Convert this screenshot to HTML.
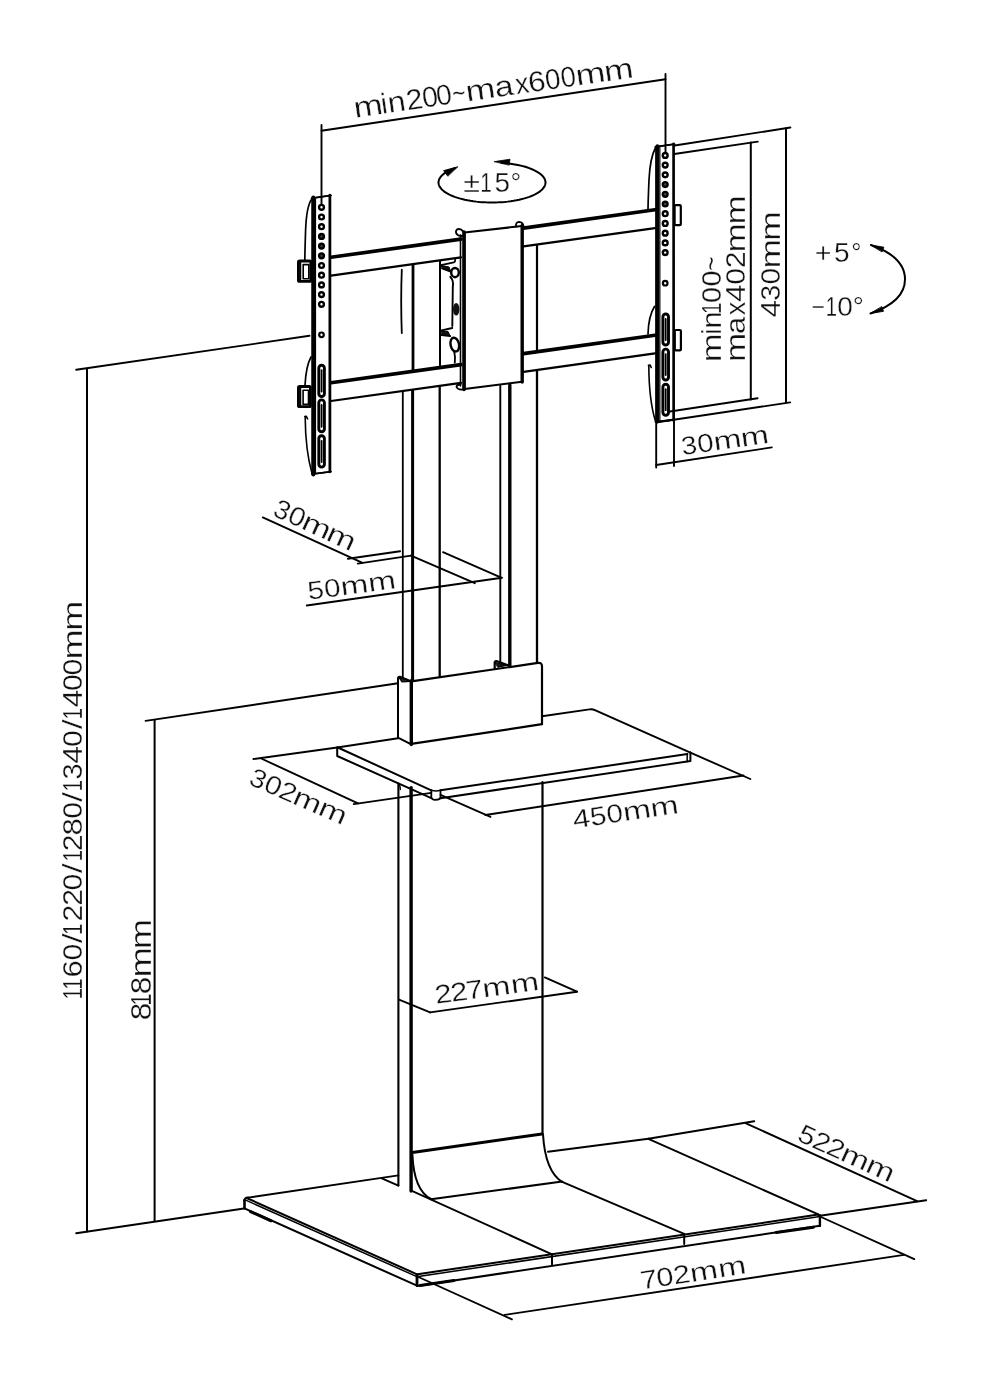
<!DOCTYPE html>
<html><head><meta charset="utf-8"><style>
html,body{margin:0;padding:0;background:#fff;}
svg{display:block;will-change:transform;}
text{font-family:"Liberation Sans",sans-serif;fill:#111;stroke:#fff;stroke-width:0.3;paint-order:fill stroke;}
</style></head><body>
<svg width="988" height="1381" viewBox="0 0 988 1381">
<rect width="988" height="1381" fill="#fff"/>
<g stroke="#000" stroke-linecap="round" stroke-linejoin="round" fill="none">
<line x1="321.50" y1="130.70" x2="665.50" y2="79.20" stroke-width="1.90"/>
<path d="M501.29,162.80 L504.40,163.04 L507.46,163.35 L510.47,163.73 L513.42,164.17 L516.29,164.68 L519.07,165.25 L521.76,165.88 L524.35,166.57 L526.82,167.31 L529.16,168.11 L531.38,168.96 L533.46,169.86 L535.39,170.80 L537.17,171.78 L538.79,172.80 L540.25,173.86 L541.53,174.94 L542.65,176.05 L543.58,177.19 L544.33,178.34 L544.90,179.51 L545.28,180.69 L545.47,181.87 L545.48,183.06 L545.30,184.24 L544.93,185.42 L544.37,186.59 L543.63,187.74 L542.71,188.88 L541.60,189.99 L540.33,191.08 L538.88,192.14 L537.27,193.16 L535.50,194.14 L533.58,195.09 L531.51,195.99 L529.30,196.84 L526.96,197.64 L524.49,198.39 L521.92,199.08 L519.23,199.71 L516.45,200.29 L513.59,200.80 L510.65,201.25 L507.64,201.63 L504.58,201.94 L501.47,202.18 L498.33,202.36 L495.17,202.46 L492.00,202.50 L488.83,202.46 L485.67,202.36 L482.53,202.18 L479.42,201.94 L476.36,201.63 L473.35,201.25 L470.41,200.80 L467.55,200.29 L464.77,199.71 L462.08,199.08 L459.51,198.39 L457.04,197.64 L454.70,196.84 L452.49,195.99 L450.42,195.09 L448.50,194.14 L446.73,193.16 L445.12,192.14 L443.67,191.08 L442.40,189.99 L441.29,188.88 L440.37,187.74 L439.63,186.59 L439.07,185.42 L438.70,184.24 L438.52,183.06 L438.53,181.87 L438.72,180.69 L439.10,179.51 L439.67,178.34 L440.42,177.19 L441.35,176.05 L442.47,174.94 L443.75,173.86 L445.21,172.80 L446.83,171.78 L448.61,170.80 L450.54,169.86 L452.62,168.96 L454.84,168.11" stroke-width="2.00" fill="none" />
<path d="M494.5,161.6 L510,159.2 L509.2,164.8 Z" stroke-width="0.80" fill="#000" />
<path d="M457.6,166.8 L443.6,170.6 L447.6,176 Z" stroke-width="0.80" fill="#000" />
<line x1="331.00" y1="257.30" x2="461.00" y2="239.10" stroke-width="3.60"/>
<line x1="331.00" y1="275.60" x2="461.00" y2="257.40" stroke-width="2.20"/>
<line x1="331.00" y1="382.80" x2="461.00" y2="364.60" stroke-width="3.60"/>
<line x1="331.00" y1="401.00" x2="461.00" y2="382.80" stroke-width="2.20"/>
<line x1="523.50" y1="228.15" x2="655.00" y2="209.74" stroke-width="3.60"/>
<line x1="523.50" y1="246.45" x2="655.00" y2="228.04" stroke-width="2.20"/>
<line x1="523.50" y1="353.65" x2="655.00" y2="335.24" stroke-width="3.60"/>
<line x1="523.50" y1="371.85" x2="655.00" y2="353.44" stroke-width="2.20"/>
<path d="M401.8,269.7 Q400.6,300 401.8,333" stroke-width="1.80" fill="none" />
<line x1="413.00" y1="265.12" x2="413.00" y2="369.32" stroke-width="2.80"/>
<line x1="440.00" y1="261.34" x2="440.00" y2="365.54" stroke-width="2.00"/>
<line x1="537.00" y1="245.76" x2="537.00" y2="349.96" stroke-width="2.20"/>
<line x1="402.80" y1="391.95" x2="402.80" y2="677.00" stroke-width="1.80"/>
<line x1="412.60" y1="390.58" x2="412.60" y2="681.00" stroke-width="3.00"/>
<line x1="439.70" y1="386.78" x2="439.70" y2="677.50" stroke-width="2.30"/>
<line x1="500.30" y1="386.00" x2="500.30" y2="662.00" stroke-width="1.90"/>
<line x1="509.80" y1="385.00" x2="509.80" y2="666.00" stroke-width="3.40"/>
<line x1="537.00" y1="371.16" x2="537.00" y2="663.50" stroke-width="2.30"/>
<path d="M464.5,232.6 L522,226 L522,381.7 L464.5,389 Z" stroke-width="2.00" fill="#fff" />
<line x1="464.00" y1="232.00" x2="464.00" y2="389.50" stroke-width="3.60"/>
<line x1="522.20" y1="225.50" x2="522.20" y2="382.00" stroke-width="3.40"/>
<line x1="460.50" y1="235.00" x2="460.50" y2="386.00" stroke-width="1.60"/>
<path d="M462.5,236 L458.5,235.5 Q455.5,234 456,230.8 Q457.5,228 461,229.5 L464.5,232.6" stroke-width="1.80" fill="none" />
<path d="M460.5,384.5 Q456.5,384.5 456.5,387 Q458,390.5 464.5,389.2" stroke-width="1.80" fill="none" />
<path d="M516,226.6 Q515.5,222.2 519,221.8 Q522.8,222 523.5,226" stroke-width="1.80" fill="none" />
<path d="M441,265.2 L453.8,262.4 Q455.5,261.5 455.2,259.5 M442,268.4 L450,271.5" stroke-width="1.80" fill="none" />
<path d="M441.5,265.5 L449,267 L450.5,271 L442.5,268.5 Z" stroke-width="1.00" fill="#111" />
<ellipse cx="455" cy="272.6" rx="3.8" ry="4.6" stroke-width="2.40" fill="#fff"/>
<path d="M450.3,276.8 Q454,281 452.8,287 L452.3,326" stroke-width="1.90" fill="none" />
<ellipse cx="456.2" cy="309.2" rx="3.2" ry="6.3" fill="#111" stroke="none"/>
<path d="M440.6,330.6 L452.3,328 M441.7,335 L450.3,336.1" stroke-width="1.80" fill="none" />
<path d="M441,330.8 L448,331.5 L450,335.8 L442,335 Z" stroke-width="1.00" fill="#111" />
<ellipse cx="454.8" cy="344.6" rx="4.2" ry="7" transform="rotate(-12 454.8 344.6)" stroke-width="2.40" fill="#fff"/>
<path d="M454.3,352.3 Q455.5,357 454.8,362.6" stroke-width="1.80" fill="none" />
<path d="M312.5,198 L330.5,195.5 L330.5,471.7 L312.5,474 Z" stroke-width="1.40" fill="#fff" />
<line x1="313.30" y1="197.60" x2="313.30" y2="474.50" stroke-width="4.00"/>
<line x1="315.50" y1="199.00" x2="315.50" y2="473.00" stroke-width="1.20"/>
<line x1="329.80" y1="195.00" x2="329.80" y2="472.00" stroke-width="2.60"/>
<line x1="311.60" y1="198.30" x2="331.00" y2="195.40" stroke-width="1.80"/>
<line x1="312.00" y1="474.20" x2="331.00" y2="471.60" stroke-width="1.80"/>
<circle cx="321.50" cy="207.30" r="2.4" stroke-width="2.40" fill="none"/>
<circle cx="321.50" cy="217.00" r="2.4" stroke-width="2.40" fill="none"/>
<circle cx="321.50" cy="226.70" r="2.4" stroke-width="2.40" fill="none"/>
<circle cx="321.50" cy="236.40" r="2.4" stroke-width="2.40" fill="#444"/>
<circle cx="321.50" cy="246.10" r="2.4" stroke-width="2.40" fill="#444"/>
<circle cx="321.50" cy="255.80" r="2.4" stroke-width="2.40" fill="#444"/>
<circle cx="321.50" cy="265.50" r="2.4" stroke-width="2.40" fill="none"/>
<circle cx="321.50" cy="275.20" r="2.4" stroke-width="2.40" fill="none"/>
<circle cx="321.50" cy="284.90" r="2.4" stroke-width="2.40" fill="none"/>
<circle cx="321.50" cy="294.60" r="2.4" stroke-width="2.40" fill="none"/>
<circle cx="321.50" cy="304.30" r="2.4" stroke-width="2.40" fill="none"/>
<circle cx="321.50" cy="334.80" r="2.3" stroke-width="2.20" fill="none"/>
<rect x="318.8" y="365.2" width="5.6" height="31.3" rx="2.8" stroke-width="2.90" fill="none"/>
<line x1="321.60" y1="370.20" x2="321.60" y2="391.50" stroke-width="1.80"/>
<rect x="318.8" y="399.9" width="5.6" height="31.9" rx="2.8" stroke-width="2.90" fill="none"/>
<line x1="321.60" y1="404.90" x2="321.60" y2="426.80" stroke-width="1.80"/>
<rect x="318.8" y="435.8" width="5.6" height="31.3" rx="2.8" stroke-width="2.90" fill="none"/>
<line x1="321.60" y1="440.80" x2="321.60" y2="462.10" stroke-width="1.80"/>
<path d="M311.8,199 Q306.5,206 305.6,230 Q305,248 304.8,260" stroke-width="1.70" fill="none" />
<rect x="298.4" y="261" width="12.4" height="20.4" rx="1.2" stroke-width="2.80" fill="#fff"/>
<path d="M298.2,262 L298.2,280 L300.5,281.4 L300.5,262 Z" stroke-width="1.50" fill="#111" />
<rect x="303.2" y="264.6" width="5.6" height="14.2" rx="0" stroke-width="1.60" fill="#fff"/>
<path d="M311,357 Q306,366 305,385.5" stroke-width="1.70" fill="none" />
<rect x="298.4" y="386.5" width="12" height="20.2" rx="1.2" stroke-width="2.80" fill="#fff"/>
<path d="M298.2,387.5 L298.2,405.5 L300.5,406.5 L300.5,387.5 Z" stroke-width="1.50" fill="#111" />
<rect x="303.1" y="390.2" width="5.4" height="14.2" rx="0" stroke-width="1.60" fill="#fff"/>
<path d="M304.8,416.6 L306.2,416.2 L307.6,418.8 M305.2,417.5 Q305.4,450 312,473.5" stroke-width="1.60" fill="none" />
<path d="M656,146.7 L673.5,144.3 L674,420 L656,422 Z" stroke-width="1.40" fill="#fff" />
<line x1="657.40" y1="146.30" x2="657.40" y2="421.50" stroke-width="4.00"/>
<line x1="659.90" y1="147.00" x2="659.90" y2="420.50" stroke-width="1.10"/>
<line x1="673.60" y1="143.80" x2="673.60" y2="420.50" stroke-width="2.60"/>
<line x1="655.30" y1="146.80" x2="674.50" y2="144.20" stroke-width="1.80"/>
<line x1="655.50" y1="422.00" x2="674.50" y2="419.50" stroke-width="1.80"/>
<circle cx="665.20" cy="155.40" r="2.4" stroke-width="2.40" fill="none"/>
<circle cx="665.20" cy="165.12" r="2.4" stroke-width="2.40" fill="none"/>
<circle cx="665.20" cy="174.84" r="2.4" stroke-width="2.40" fill="none"/>
<circle cx="665.20" cy="184.56" r="2.4" stroke-width="2.40" fill="#444"/>
<circle cx="665.20" cy="194.28" r="2.4" stroke-width="2.40" fill="#444"/>
<circle cx="665.20" cy="204.00" r="2.4" stroke-width="2.40" fill="#444"/>
<circle cx="665.20" cy="213.72" r="2.4" stroke-width="2.40" fill="none"/>
<circle cx="665.20" cy="223.44" r="2.4" stroke-width="2.40" fill="none"/>
<circle cx="665.20" cy="233.16" r="2.4" stroke-width="2.40" fill="none"/>
<circle cx="665.20" cy="242.88" r="2.4" stroke-width="2.40" fill="none"/>
<circle cx="665.20" cy="252.60" r="2.4" stroke-width="2.40" fill="none"/>
<circle cx="665.20" cy="283.20" r="2.3" stroke-width="2.20" fill="none"/>
<rect x="662.9" y="314" width="5.6" height="31" rx="2.8" stroke-width="2.90" fill="none"/>
<line x1="665.70" y1="319.00" x2="665.70" y2="340.00" stroke-width="1.80"/>
<rect x="662.9" y="349.1" width="5.6" height="30.9" rx="2.8" stroke-width="2.90" fill="none"/>
<line x1="665.70" y1="354.10" x2="665.70" y2="375.00" stroke-width="1.80"/>
<rect x="662.9" y="384.2" width="5.6" height="31.0" rx="2.8" stroke-width="2.90" fill="none"/>
<line x1="665.70" y1="389.20" x2="665.70" y2="410.20" stroke-width="1.80"/>
<path d="M655.6,147.5 Q650,158 649,180 Q648.2,198 648,210" stroke-width="1.70" fill="none" />
<rect x="674.6" y="205.2" width="6.2" height="20" rx="1" stroke-width="2.20" fill="#fff"/>
<rect x="674.8" y="330" width="6.1" height="20.4" rx="1" stroke-width="2.20" fill="#fff"/>
<path d="M654.5,306.5 Q648.5,316 648,334" stroke-width="1.70" fill="none" />
<path d="M648.4,365.2 L650.2,365 L651.2,367.5 M648.8,366 Q649,400 655.4,421" stroke-width="1.60" fill="none" />
<line x1="321.50" y1="125.00" x2="321.50" y2="204.60" stroke-width="1.90"/>
<line x1="665.50" y1="74.00" x2="665.50" y2="152.60" stroke-width="1.90"/>
<path d="M411.3,681.4 L538,662.9 Q542,662.4 542,666.5 L542,724.2 L411.3,743.9 Z" stroke-width="2.20" fill="#fff" />
<line x1="411.30" y1="680.80" x2="411.30" y2="744.60" stroke-width="3.40"/>
<path d="M411.3,681.4 L400,676.8 Q398,676.5 398,678.5 L398,737.7 L411.3,744.4" stroke-width="2.00" fill="none" />
<path d="M398.6,677 L411,681.4 L402,681.8 Z" stroke-width="1.20" fill="#222" />
<path d="M494.7,668.5 L494.7,662 Q495.5,660.8 497,661.2 L508,665.3" stroke-width="2.20" fill="none" />
<path d="M495.5,662.5 L507,665.4 L498,667.2 Z" stroke-width="1.00" fill="#111" />
<line x1="337.20" y1="747.50" x2="398.00" y2="738.30" stroke-width="1.90"/>
<path d="M542,716.3 L589.5,709.4 Q592.5,709 595.5,710.4 L690.4,752.6" stroke-width="1.90" fill="none" />
<path d="M337.8,747.5 L431.3,790.3" stroke-width="2.00" fill="none" />
<path d="M440.5,790.3 L687.4,754.1" stroke-width="2.00" fill="none" />
<path d="M337.2,747.5 L337.2,756 L431.3,798.2 M440.5,798.2 L690.4,761.1 L690.4,752.6" stroke-width="2.00" fill="none" />
<path d="M431.3,790.3 L431.3,797.5 Q432,799.6 434.5,799.8 L438,799.5 Q440.5,799 440.5,797 L440.5,790.3" stroke-width="1.80" fill="none" />
<path d="M431.3,790.3 Q436,791.8 440.5,790.3" stroke-width="1.60" fill="none" />
<line x1="687.20" y1="753.80" x2="687.20" y2="761.40" stroke-width="1.50"/>
<line x1="398.40" y1="783.60" x2="398.40" y2="1185.50" stroke-width="2.10"/>
<line x1="411.10" y1="787.60" x2="411.10" y2="1191.00" stroke-width="3.40"/>
<line x1="542.50" y1="782.00" x2="542.50" y2="1134.00" stroke-width="2.20"/>
<path d="M398.4,784 Q400.5,785.5 400.3,789.5" stroke-width="1.30" fill="none" />
<line x1="412.40" y1="1152.60" x2="542.00" y2="1133.90" stroke-width="3.00"/>
<path d="M412.4,1154.5 C413.5,1180 421,1194 431,1199" stroke-width="2.00" fill="none" />
<path d="M543,1134.3 C544.5,1160 551,1175 562.2,1182" stroke-width="2.00" fill="none" />
<line x1="431.00" y1="1199.20" x2="562.20" y2="1181.60" stroke-width="2.00"/>
<line x1="248.00" y1="1197.60" x2="398.40" y2="1175.40" stroke-width="1.90"/>
<line x1="548.00" y1="1151.80" x2="648.40" y2="1138.80" stroke-width="1.90"/>
<path d="M244.2,1201 Q244.5,1197.8 248,1197.6" stroke-width="2.00" fill="none" />
<line x1="246.60" y1="1198.00" x2="417.00" y2="1274.30" stroke-width="2.00"/>
<line x1="246.30" y1="1200.40" x2="416.30" y2="1276.40" stroke-width="1.50"/>
<line x1="417.70" y1="1274.20" x2="818.30" y2="1214.60" stroke-width="2.00"/>
<line x1="418.40" y1="1276.50" x2="818.30" y2="1216.80" stroke-width="1.50"/>
<line x1="244.50" y1="1200.20" x2="244.50" y2="1208.30" stroke-width="2.60"/>
<line x1="244.50" y1="1208.40" x2="417.00" y2="1285.70" stroke-width="2.00"/>
<line x1="417.00" y1="1274.80" x2="417.00" y2="1285.50" stroke-width="2.80"/>
<line x1="417.20" y1="1286.00" x2="819.90" y2="1225.80" stroke-width="2.00"/>
<line x1="819.90" y1="1215.20" x2="819.90" y2="1225.80" stroke-width="2.40"/>
<line x1="648.40" y1="1138.80" x2="818.30" y2="1214.40" stroke-width="1.90"/>
<line x1="381.80" y1="1178.30" x2="398.40" y2="1185.60" stroke-width="1.90"/>
<line x1="412.40" y1="1191.10" x2="552.00" y2="1254.30" stroke-width="1.90"/>
<line x1="552.00" y1="1254.50" x2="552.00" y2="1264.40" stroke-width="2.00"/>
<line x1="562.20" y1="1181.90" x2="684.20" y2="1233.90" stroke-width="1.90"/>
<line x1="684.20" y1="1233.90" x2="684.20" y2="1244.00" stroke-width="2.00"/>
<line x1="250.50" y1="1211.60" x2="271.00" y2="1220.80" stroke-width="3.00"/>
<line x1="420.00" y1="1285.50" x2="454.00" y2="1280.40" stroke-width="3.00"/>
<line x1="776.20" y1="1232.50" x2="813.40" y2="1227.20" stroke-width="3.00"/>
<line x1="76.20" y1="369.80" x2="309.50" y2="335.80" stroke-width="1.90"/>
<line x1="87.00" y1="369.50" x2="87.00" y2="1231.50" stroke-width="2.00"/>
<line x1="76.20" y1="1233.30" x2="244.00" y2="1208.50" stroke-width="1.90"/>
<line x1="145.60" y1="720.90" x2="398.00" y2="683.30" stroke-width="1.90"/>
<line x1="154.60" y1="720.20" x2="154.60" y2="1221.00" stroke-width="2.00"/>
<line x1="262.80" y1="517.40" x2="362.00" y2="562.70" stroke-width="1.90"/>
<line x1="347.90" y1="558.80" x2="400.10" y2="551.20" stroke-width="1.90"/>
<line x1="357.80" y1="563.60" x2="411.00" y2="555.60" stroke-width="1.90"/>
<line x1="411.00" y1="555.60" x2="474.80" y2="583.20" stroke-width="1.90"/>
<line x1="443.00" y1="552.20" x2="501.20" y2="577.70" stroke-width="1.90"/>
<line x1="306.80" y1="605.50" x2="502.00" y2="577.70" stroke-width="1.90"/>
<line x1="253.40" y1="759.00" x2="337.20" y2="747.50" stroke-width="1.90"/>
<line x1="261.20" y1="758.50" x2="358.00" y2="803.30" stroke-width="1.90"/>
<line x1="353.70" y1="804.10" x2="431.30" y2="792.90" stroke-width="1.90"/>
<line x1="440.50" y1="794.90" x2="490.50" y2="816.80" stroke-width="1.90"/>
<line x1="690.40" y1="752.60" x2="750.30" y2="779.00" stroke-width="1.90"/>
<line x1="485.40" y1="815.00" x2="743.50" y2="775.50" stroke-width="1.90"/>
<line x1="399.00" y1="999.70" x2="430.10" y2="1012.40" stroke-width="1.90"/>
<line x1="430.10" y1="1012.40" x2="577.00" y2="991.70" stroke-width="1.90"/>
<line x1="544.80" y1="977.40" x2="577.00" y2="991.70" stroke-width="1.90"/>
<line x1="418.40" y1="1277.00" x2="511.90" y2="1319.30" stroke-width="1.90"/>
<line x1="504.60" y1="1314.90" x2="904.00" y2="1254.90" stroke-width="1.90"/>
<line x1="819.90" y1="1216.50" x2="914.30" y2="1259.10" stroke-width="1.90"/>
<line x1="648.40" y1="1138.80" x2="754.20" y2="1121.30" stroke-width="1.90"/>
<line x1="746.00" y1="1123.30" x2="917.10" y2="1201.20" stroke-width="1.90"/>
<line x1="818.30" y1="1216.00" x2="926.20" y2="1200.20" stroke-width="1.90"/>
<line x1="674.70" y1="145.50" x2="790.40" y2="127.50" stroke-width="1.90"/>
<line x1="786.00" y1="128.50" x2="786.00" y2="402.40" stroke-width="2.00"/>
<line x1="657.00" y1="422.30" x2="790.20" y2="402.40" stroke-width="1.90"/>
<line x1="674.30" y1="154.00" x2="757.80" y2="141.60" stroke-width="1.90"/>
<line x1="750.80" y1="142.60" x2="750.80" y2="399.60" stroke-width="2.00"/>
<line x1="670.00" y1="411.50" x2="757.60" y2="398.20" stroke-width="1.90"/>
<line x1="656.20" y1="422.00" x2="656.20" y2="467.60" stroke-width="1.90"/>
<line x1="674.00" y1="420.00" x2="674.00" y2="466.00" stroke-width="1.90"/>
<line x1="656.20" y1="465.00" x2="771.80" y2="447.40" stroke-width="1.90"/>
<path d="M871,245 C889.5,251.5 905,262 905,279.3 C905,296.5 889.5,307 870.5,313.5" stroke-width="2.00" fill="none" />
<path d="M870.8,245 L883.8,247.2 L882.2,251.6 Z" stroke-width="0.90" fill="#000" />
<path d="M870.5,313.5 L883.5,311.3 L881.9,306.9 Z" stroke-width="0.90" fill="#000" />
<text transform="translate(357.10,117.50) rotate(-8.27)" font-size="28.78"><tspan x="-2.24" textLength="29.13" lengthAdjust="spacingAndGlyphs">m</tspan><tspan x="25.51" textLength="6.39" lengthAdjust="spacingAndGlyphs">i</tspan><tspan x="32.34" textLength="17.94" lengthAdjust="spacingAndGlyphs">n</tspan><tspan x="51.05" textLength="16.72" lengthAdjust="spacingAndGlyphs">2</tspan><tspan x="67.01" textLength="15.94" lengthAdjust="spacingAndGlyphs">0</tspan><tspan x="81.37" textLength="15.71" lengthAdjust="spacingAndGlyphs">0</tspan><tspan x="97.30" textLength="13.35" lengthAdjust="spacingAndGlyphs">~</tspan><tspan x="110.94" textLength="29.72" lengthAdjust="spacingAndGlyphs">m</tspan><tspan x="140.32" textLength="18.84" lengthAdjust="spacingAndGlyphs">a</tspan><tspan x="161.29" textLength="13.49" lengthAdjust="spacingAndGlyphs">x</tspan><tspan x="174.32" textLength="17.36" lengthAdjust="spacingAndGlyphs">6</tspan><tspan x="191.29" textLength="15.36" lengthAdjust="spacingAndGlyphs">0</tspan><tspan x="207.15" textLength="15.36" lengthAdjust="spacingAndGlyphs">0</tspan><tspan x="222.30" textLength="29.72" lengthAdjust="spacingAndGlyphs">m</tspan><tspan x="251.03" textLength="29.25" lengthAdjust="spacingAndGlyphs">m</tspan></text>
<text transform="translate(464.30,192.40) rotate(0.00)" font-size="27.62"><tspan x="-0.97" textLength="16.72" lengthAdjust="spacingAndGlyphs">±</tspan><tspan x="16.06" textLength="11.52" lengthAdjust="spacingAndGlyphs">1</tspan><tspan x="30.09" textLength="15.48" lengthAdjust="spacingAndGlyphs">5</tspan><tspan x="46.16" textLength="10.70" lengthAdjust="spacingAndGlyphs">°</tspan></text>
<text transform="translate(816.10,262.30) rotate(0.00)" font-size="27.91"><tspan x="-1.40" textLength="16.71" lengthAdjust="spacingAndGlyphs">+</tspan><tspan x="17.88" textLength="15.60" lengthAdjust="spacingAndGlyphs">5</tspan><tspan x="35.27" textLength="10.27" lengthAdjust="spacingAndGlyphs">°</tspan></text>
<text transform="translate(812.80,316.30) rotate(0.00)" font-size="27.03"><tspan x="-1.13" textLength="13.34" lengthAdjust="spacingAndGlyphs">−</tspan><tspan x="12.98" textLength="11.28" lengthAdjust="spacingAndGlyphs">1</tspan><tspan x="24.51" textLength="15.59" lengthAdjust="spacingAndGlyphs">0</tspan><tspan x="40.04" textLength="11.13" lengthAdjust="spacingAndGlyphs">°</tspan></text>
<text transform="translate(721.10,359.50) rotate(-90.00)" font-size="27.33"><tspan x="-2.86" textLength="28.70" lengthAdjust="spacingAndGlyphs">m</tspan><tspan x="25.05" textLength="6.07" lengthAdjust="spacingAndGlyphs">i</tspan><tspan x="30.88" textLength="17.61" lengthAdjust="spacingAndGlyphs">n</tspan><tspan x="45.46" textLength="11.40" lengthAdjust="spacingAndGlyphs">1</tspan><tspan x="56.51" textLength="16.04" lengthAdjust="spacingAndGlyphs">0</tspan><tspan x="72.90" textLength="16.04" lengthAdjust="spacingAndGlyphs">0</tspan><tspan x="88.69" textLength="14.41" lengthAdjust="spacingAndGlyphs">~</tspan></text>
<text transform="translate(744.80,359.50) rotate(-90.00)" font-size="27.03"><tspan x="-2.63" textLength="29.28" lengthAdjust="spacingAndGlyphs">m</tspan><tspan x="25.47" textLength="17.24" lengthAdjust="spacingAndGlyphs">a</tspan><tspan x="44.18" textLength="13.57" lengthAdjust="spacingAndGlyphs">x</tspan><tspan x="57.48" textLength="17.70" lengthAdjust="spacingAndGlyphs">4</tspan><tspan x="74.83" textLength="16.76" lengthAdjust="spacingAndGlyphs">0</tspan><tspan x="91.33" textLength="16.82" lengthAdjust="spacingAndGlyphs">2</tspan><tspan x="106.94" textLength="29.28" lengthAdjust="spacingAndGlyphs">m</tspan><tspan x="135.04" textLength="29.28" lengthAdjust="spacingAndGlyphs">m</tspan></text>
<text transform="translate(780.40,316.50) rotate(-90.00)" font-size="27.33"><tspan x="-1.10" textLength="17.52" lengthAdjust="spacingAndGlyphs">4</tspan><tspan x="15.81" textLength="15.92" lengthAdjust="spacingAndGlyphs">3</tspan><tspan x="31.96" textLength="16.58" lengthAdjust="spacingAndGlyphs">0</tspan><tspan x="47.91" textLength="29.59" lengthAdjust="spacingAndGlyphs">m</tspan><tspan x="75.71" textLength="29.59" lengthAdjust="spacingAndGlyphs">m</tspan></text>
<text transform="translate(82.00,996.70) rotate(-90.00)" font-size="27.91"><tspan x="-2.86" textLength="11.64" lengthAdjust="spacingAndGlyphs">1</tspan><tspan x="6.84" textLength="11.64" lengthAdjust="spacingAndGlyphs">1</tspan><tspan x="19.22" textLength="17.34" lengthAdjust="spacingAndGlyphs">6</tspan><tspan x="36.10" textLength="16.80" lengthAdjust="spacingAndGlyphs">0</tspan><tspan x="53.41" textLength="10.08" lengthAdjust="spacingAndGlyphs">/</tspan><tspan x="61.59" textLength="11.64" lengthAdjust="spacingAndGlyphs">1</tspan><tspan x="75.22" textLength="16.86" lengthAdjust="spacingAndGlyphs">2</tspan><tspan x="90.87" textLength="16.86" lengthAdjust="spacingAndGlyphs">2</tspan><tspan x="106.30" textLength="16.80" lengthAdjust="spacingAndGlyphs">0</tspan><tspan x="123.36" textLength="10.08" lengthAdjust="spacingAndGlyphs">/</tspan><tspan x="135.09" textLength="11.64" lengthAdjust="spacingAndGlyphs">1</tspan><tspan x="145.37" textLength="16.86" lengthAdjust="spacingAndGlyphs">2</tspan><tspan x="161.29" textLength="17.42" lengthAdjust="spacingAndGlyphs">8</tspan><tspan x="177.90" textLength="16.80" lengthAdjust="spacingAndGlyphs">0</tspan><tspan x="194.66" textLength="10.08" lengthAdjust="spacingAndGlyphs">/</tspan><tspan x="205.09" textLength="11.64" lengthAdjust="spacingAndGlyphs">1</tspan><tspan x="217.12" textLength="16.13" lengthAdjust="spacingAndGlyphs">3</tspan><tspan x="232.93" textLength="17.74" lengthAdjust="spacingAndGlyphs">4</tspan><tspan x="249.60" textLength="16.80" lengthAdjust="spacingAndGlyphs">0</tspan><tspan x="267.36" textLength="10.08" lengthAdjust="spacingAndGlyphs">/</tspan><tspan x="277.09" textLength="11.64" lengthAdjust="spacingAndGlyphs">1</tspan><tspan x="289.23" textLength="17.74" lengthAdjust="spacingAndGlyphs">4</tspan><tspan x="305.70" textLength="16.80" lengthAdjust="spacingAndGlyphs">0</tspan><tspan x="321.10" textLength="16.80" lengthAdjust="spacingAndGlyphs">0</tspan><tspan x="337.26" textLength="30.07" lengthAdjust="spacingAndGlyphs">m</tspan><tspan x="366.06" textLength="30.07" lengthAdjust="spacingAndGlyphs">m</tspan></text>
<text transform="translate(150.80,1018.60) rotate(-90.00)" font-size="29.65"><tspan x="-1.72" textLength="17.54" lengthAdjust="spacingAndGlyphs">8</tspan><tspan x="12.86" textLength="12.37" lengthAdjust="spacingAndGlyphs">1</tspan><tspan x="24.45" textLength="17.54" lengthAdjust="spacingAndGlyphs">8</tspan><tspan x="40.99" textLength="30.27" lengthAdjust="spacingAndGlyphs">m</tspan><tspan x="69.33" textLength="30.27" lengthAdjust="spacingAndGlyphs">m</tspan></text>
<text transform="translate(684.00,455.00) rotate(-8.18)" font-size="25.87"><tspan x="-1.40" textLength="15.77" lengthAdjust="spacingAndGlyphs">3</tspan><tspan x="14.60" textLength="16.42" lengthAdjust="spacingAndGlyphs">0</tspan><tspan x="31.04" textLength="28.02" lengthAdjust="spacingAndGlyphs">m</tspan><tspan x="58.57" textLength="28.02" lengthAdjust="spacingAndGlyphs">m</tspan></text>
<text transform="translate(272.80,515.60) rotate(24.60)" font-size="26.74"><tspan x="-1.38" textLength="15.58" lengthAdjust="spacingAndGlyphs">3</tspan><tspan x="14.43" textLength="16.23" lengthAdjust="spacingAndGlyphs">0</tspan><tspan x="30.03" textLength="28.96" lengthAdjust="spacingAndGlyphs">m</tspan><tspan x="57.24" textLength="28.96" lengthAdjust="spacingAndGlyphs">m</tspan></text>
<text transform="translate(310.30,599.60) rotate(-7.50)" font-size="25.58"><tspan x="-1.51" textLength="16.38" lengthAdjust="spacingAndGlyphs">5</tspan><tspan x="15.05" textLength="16.48" lengthAdjust="spacingAndGlyphs">0</tspan><tspan x="31.74" textLength="27.70" lengthAdjust="spacingAndGlyphs">m</tspan><tspan x="59.36" textLength="27.70" lengthAdjust="spacingAndGlyphs">m</tspan></text>
<text transform="translate(248.70,784.40) rotate(23.54)" font-size="26.16"><tspan x="-1.41" textLength="15.83" lengthAdjust="spacingAndGlyphs">3</tspan><tspan x="14.66" textLength="16.49" lengthAdjust="spacingAndGlyphs">0</tspan><tspan x="30.90" textLength="16.55" lengthAdjust="spacingAndGlyphs">2</tspan><tspan x="46.50" textLength="28.33" lengthAdjust="spacingAndGlyphs">m</tspan><tspan x="74.14" textLength="28.33" lengthAdjust="spacingAndGlyphs">m</tspan></text>
<text transform="translate(575.10,828.40) rotate(-8.44)" font-size="25.87"><tspan x="-1.10" textLength="17.53" lengthAdjust="spacingAndGlyphs">4</tspan><tspan x="16.36" textLength="16.50" lengthAdjust="spacingAndGlyphs">5</tspan><tspan x="33.04" textLength="16.60" lengthAdjust="spacingAndGlyphs">0</tspan><tspan x="49.79" textLength="28.02" lengthAdjust="spacingAndGlyphs">m</tspan><tspan x="77.61" textLength="28.02" lengthAdjust="spacingAndGlyphs">m</tspan></text>
<text transform="translate(437.90,1003.60) rotate(-7.74)" font-size="26.02"><tspan x="-1.88" textLength="17.14" lengthAdjust="spacingAndGlyphs">2</tspan><tspan x="14.10" textLength="17.14" lengthAdjust="spacingAndGlyphs">2</tspan><tspan x="29.59" textLength="16.93" lengthAdjust="spacingAndGlyphs">7</tspan><tspan x="46.04" textLength="28.17" lengthAdjust="spacingAndGlyphs">m</tspan><tspan x="74.68" textLength="28.17" lengthAdjust="spacingAndGlyphs">m</tspan></text>
<text transform="translate(643.50,1289.30) rotate(-8.75)" font-size="25.87"><tspan x="-1.89" textLength="16.97" lengthAdjust="spacingAndGlyphs">7</tspan><tspan x="14.47" textLength="17.12" lengthAdjust="spacingAndGlyphs">0</tspan><tspan x="31.32" textLength="17.18" lengthAdjust="spacingAndGlyphs">2</tspan><tspan x="48.21" textLength="28.02" lengthAdjust="spacingAndGlyphs">m</tspan><tspan x="76.91" textLength="28.02" lengthAdjust="spacingAndGlyphs">m</tspan></text>
<text transform="translate(797.40,1140.70) rotate(24.40)" font-size="26.16"><tspan x="-1.52" textLength="16.46" lengthAdjust="spacingAndGlyphs">5</tspan><tspan x="14.50" textLength="16.61" lengthAdjust="spacingAndGlyphs">2</tspan><tspan x="29.99" textLength="16.61" lengthAdjust="spacingAndGlyphs">2</tspan><tspan x="45.70" textLength="28.33" lengthAdjust="spacingAndGlyphs">m</tspan><tspan x="73.45" textLength="28.33" lengthAdjust="spacingAndGlyphs">m</tspan></text>
</g>
</svg>
</body></html>
